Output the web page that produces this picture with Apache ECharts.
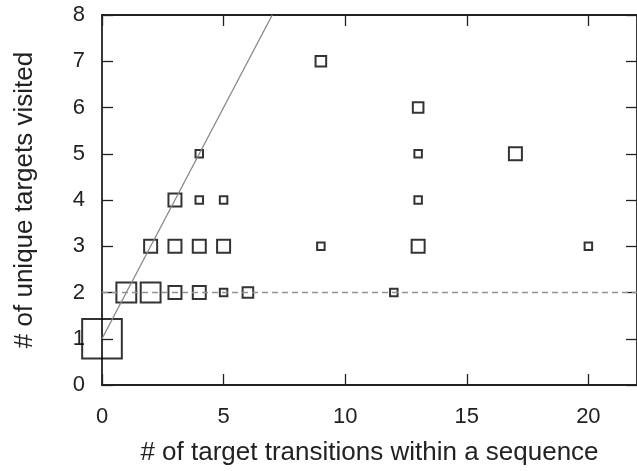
<!DOCTYPE html>
<html>
<head>
<meta charset="utf-8">
<script src="https://cdn.jsdelivr.net/npm/echarts@6/dist/echarts.min.js"></script>
<style>
	html, body { margin: 0; padding: 0; background: #fff; }
	#main { width: 637px; height: 471px; }
</style>
</head>
<body>
<div id="main"></div>
<script>
	// transitions (x), unique targets (y), number of sequences (marker size)
	var transitions = [0, 1, 2, 3, 4, 5, 6, 12, 2, 3, 4, 5, 9, 13, 20, 3, 4, 5, 13, 4, 13, 17, 13, 9];
	var uniqueTargets = [1, 2, 2, 2, 2, 2, 2, 2, 3, 3, 3, 3, 3, 3, 3, 4, 4, 4, 4, 5, 5, 5, 6, 7];
	var counts = [28, 7, 7, 3, 3, 1, 2, 1, 3, 3, 3, 3, 1, 3, 1, 3, 1, 1, 1, 1, 1, 3, 2, 2];

	// reference lines: y = x + 1 and y = 2
	var diagX = [0, 7];
	var diagY = [1, 8];
	var flatX = [0, 22];
	var flatY = [2, 2];

	var xTicks = [0, 5, 10, 15, 20];
	var yTicks = [0, 1, 2, 3, 4, 5, 6, 7, 8];

	var points = transitions.map(function(x, i) {
		return [x, uniqueTargets[i], counts[i]];
	});
	var pair = function(xs, ys) {
		return xs.map(function(x, i) { return [x, ys[i]]; });
	};

	var font = 'Liberation Sans, Arial, sans-serif';
	var axisColor = '#222';
	var line = { onZero: false, lineStyle: { color: axisColor, width: 1.8 } };
	var tick = function(vals) {
		return { inside: true, length: 11, customValues: vals, lineStyle: { color: axisColor, width: 1.3 } };
	};

	var myChart = echarts.init(document.getElementById('main'));

	var option = {
		backgroundColor: '#fff',
		animation: false,
		grid: {
			left: 102,
			right: -6,
			top: 15,
			bottom: 84
		},
		xAxis: [{
			type: 'value',
			min: 0,
			max: 22,
			interval: 5,
			name: '# of target transitions within a sequence',
			nameLocation: 'middle',
			nameGap: 55,
			nameTextStyle: { color: '#222', fontSize: 26, fontFamily: font },
			axisLine: line,
			axisTick: tick(xTicks),
			axisLabel: { color: '#222', fontSize: 22, fontFamily: font, margin: 21, customValues: xTicks },
			splitLine: { show: false }
		}, {
			type: 'value',
			position: 'top',
			min: 0,
			max: 22,
			interval: 5,
			axisLine: line,
			axisTick: tick(xTicks),
			axisLabel: { show: false },
			splitLine: { show: false }
		}],
		yAxis: [{
			type: 'value',
			min: 0,
			max: 8,
			interval: 1,
			name: '# of unique targets visited',
			nameLocation: 'middle',
			nameGap: 64,
			nameTextStyle: { color: '#222', fontSize: 26, fontFamily: font },
			axisLine: line,
			axisTick: tick(yTicks),
			axisLabel: { color: '#222', fontSize: 22, fontFamily: font, margin: 17, customValues: yTicks },
			splitLine: { show: false }
		}, {
			type: 'value',
			position: 'right',
			min: 0,
			max: 8,
			interval: 1,
			axisLine: line,
			axisTick: tick(yTicks),
			axisLabel: { show: false },
			splitLine: { show: false }
		}],
		series: [{
			type: 'line',
			data: pair(diagX, diagY),
			symbol: 'none',
			lineStyle: { color: '#888', width: 1.3 },
			silent: true
		}, {
			type: 'line',
			data: pair(flatX, flatY),
			symbol: 'none',
			lineStyle: { color: '#929292', width: 1.4, type: [6, 4] },
			silent: true
		}, {
			type: 'scatter',
			data: points,
			symbol: 'rect',
			symbolSize: function(d) { return 7.5 * Math.sqrt(d[2]); },
			itemStyle: {
				color: 'rgba(0,0,0,0)',
				borderColor: '#000',
				borderWidth: 2
			}
		}]
	};
	myChart.setOption(option);
</script>
</body>
</html>
